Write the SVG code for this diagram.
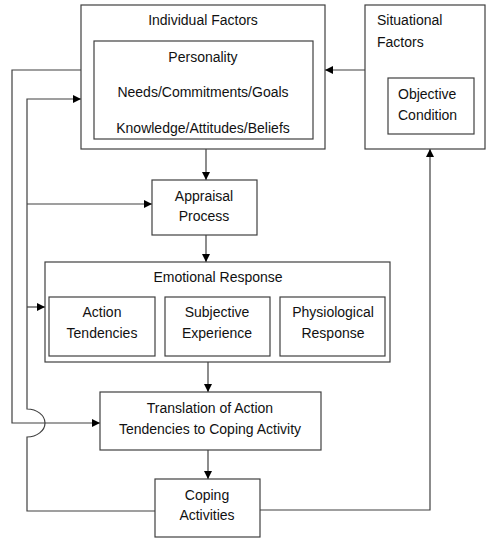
<svg xmlns="http://www.w3.org/2000/svg" width="486" height="539" viewBox="0 0 486 539">
  <style>
    .box { fill: #ffffff; stroke: #404040; stroke-width: 1.2; }
    .wire { fill: none; stroke: #404040; stroke-width: 1.2; }
    text { font-family: "Liberation Sans", Arial, sans-serif; font-size: 14px; fill: #111111; }
    .c { text-anchor: middle; }
  </style>
  <defs>
    <marker id="arrow" viewBox="0 0 10 10" refX="10" refY="5" markerWidth="8" markerHeight="8" markerUnits="userSpaceOnUse" orient="auto">
      <path d="M0,0 L10,5 L0,10 Z" fill="#000000"/>
    </marker>
  </defs>
  <rect width="486" height="539" fill="#ffffff"/>

  <g id="connectors">
    <!-- Individual -> Appraisal -->
    <line class="wire" x1="206" y1="149" x2="206" y2="180" marker-end="url(#arrow)"/>
    <!-- Appraisal -> Emotional Response -->
    <line class="wire" x1="206" y1="235" x2="206" y2="262" marker-end="url(#arrow)"/>
    <!-- Emotional Response -> Translation -->
    <line class="wire" x1="208" y1="362" x2="208" y2="392" marker-end="url(#arrow)"/>
    <!-- Translation -> Coping -->
    <line class="wire" x1="208" y1="450" x2="208" y2="479" marker-end="url(#arrow)"/>
    <!-- Situational -> Individual -->
    <line class="wire" x1="365" y1="70" x2="325" y2="70" marker-end="url(#arrow)"/>
    <!-- Coping -> Situational -->
    <polyline class="wire" points="260,510 430,510 430,149" marker-end="url(#arrow)"/>
    <!-- Individual -> Translation (outer loop) -->
    <polyline class="wire" points="81,70 12,70 12,423 100,423" marker-end="url(#arrow)"/>
    <!-- Coping -> Individual (inner loop with hop over outer loop) -->
    <path class="wire" d="M155,511 L27,511 L27,437 A18,14 0 0 0 27,409 L27,99 L81,99" marker-end="url(#arrow)"/>
    <!-- Branch to Appraisal -->
    <line class="wire" x1="27" y1="204" x2="152" y2="204" marker-end="url(#arrow)"/>
    <!-- Branch to Emotional Response -->
    <line class="wire" x1="27" y1="307" x2="45" y2="307" marker-end="url(#arrow)"/>
  </g>

  <g id="individual-factors">
    <rect class="box" x="81" y="5" width="244" height="144"/>
    <text class="c" x="203" y="25">Individual Factors</text>
    <rect class="box" x="94" y="41" width="219" height="98"/>
    <text class="c" x="203" y="62">Personality</text>
    <text class="c" x="203" y="97">Needs/Commitments/Goals</text>
    <text class="c" x="203" y="133">Knowledge/Attitudes/Beliefs</text>
  </g>

  <g id="situational-factors">
    <rect class="box" x="365" y="5" width="120" height="144"/>
    <text x="377" y="25">Situational</text>
    <text x="377" y="47">Factors</text>
    <rect class="box" x="388" y="78" width="86" height="56"/>
    <text x="398" y="99">Objective</text>
    <text x="398" y="120">Condition</text>
  </g>

  <g id="appraisal-process">
    <rect class="box" x="152" y="180" width="105" height="55"/>
    <text class="c" x="204" y="201">Appraisal</text>
    <text class="c" x="204" y="221">Process</text>
  </g>

  <g id="emotional-response">
    <rect class="box" x="45" y="262" width="345" height="100"/>
    <text class="c" x="218" y="282">Emotional Response</text>
    <g id="action-tendencies">
      <rect class="box" x="49" y="297" width="106" height="59"/>
      <text class="c" x="102" y="317">Action</text>
      <text class="c" x="102" y="338">Tendencies</text>
    </g>
    <g id="subjective-experience">
      <rect class="box" x="165" y="297" width="105" height="59"/>
      <text class="c" x="217" y="317">Subjective</text>
      <text class="c" x="217" y="338">Experience</text>
    </g>
    <g id="physiological-response">
      <rect class="box" x="280" y="297" width="105" height="59"/>
      <text class="c" x="333" y="317">Physiological</text>
      <text class="c" x="333" y="338">Response</text>
    </g>
  </g>

  <g id="translation">
    <rect class="box" x="100" y="392" width="221" height="58"/>
    <text class="c" x="210" y="413">Translation of Action</text>
    <text class="c" x="210" y="434">Tendencies to Coping Activity</text>
  </g>

  <g id="coping-activities">
    <rect class="box" x="155" y="479" width="105" height="58"/>
    <text class="c" x="207" y="500">Coping</text>
    <text class="c" x="207" y="520">Activities</text>
  </g>
</svg>
